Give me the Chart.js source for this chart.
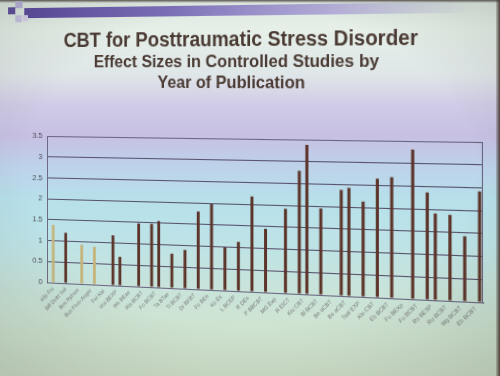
<!DOCTYPE html>
<html>
<head>
<meta charset="utf-8">
<script src="https://cdn.jsdelivr.net/npm/chart.js@4.4.1/dist/chart.umd.min.js"></script>
<style>
  html, body { margin: 0; padding: 0; }
  body {
    width: 500px; height: 376px; overflow: hidden; position: relative;
    background: linear-gradient(to bottom, #5c5550 0px, #dde8e0 3px, #e6f0e8 30px, #dfe6e8 75px,
      #d0cbe6 105px, #c7c0e3 135px, #bdd3ea 168px, #b7e0ea 200px, #bde3e7 240px,
      #c6e3dc 280px, #cfe4d3 320px, #d1e1cb 376px);
    font-family: "Liberation Sans", Arial, sans-serif;
  }
  #slide {
    position: absolute; left: 0; top: 0; width: 500px; height: 376px;
    transform-origin: 0 0;
    /* photo perspective: right side of the slide is closer to the camera */
    transform: matrix3d(0.89463, -0.0146, 0, -0.0001988, 0, 1, 0, 0, 0, 0, 1, 0, 4.513, -0.583, 0, 1);
  }
  .title { position: absolute; width: 400px; text-align: center; color: #4a3a33; font-weight: bold; }
  #chartBox { position: absolute; left: 0; top: 124px; width: 500px; height: 200px; }
  .deco { position: absolute; }
  #vignette {
    position: absolute; left: 0; top: 0; width: 500px; height: 376px; pointer-events: none;
    background: radial-gradient(ellipse 75% 70% at 50% 45%, rgba(0,0,0,0) 60%, rgba(60,70,60,0.18) 100%);
  }
  #edge { position: absolute; right: 0; top: 0; width: 4px; height: 376px;
    background: linear-gradient(to right, rgba(80,64,58,0.2), #4a3c36); }
</style>
</head>
<body>
<div id="slide">
  <div class="deco" style="left:22px;top:9px;width:450px;height:10px;background:linear-gradient(to right,#5a489e 0%,#7d70b8 35%,#b3acd8 70%,rgba(200,196,228,0) 100%);"></div>
  <div class="deco" style="left:4px;top:8px;width:8px;height:7px;background:#5d4c9c;"></div>
  <div class="deco" style="left:12px;top:2px;width:8px;height:7px;background:#b9b2da;"></div>
  <div class="deco" style="left:12px;top:16px;width:7px;height:7px;background:#c9c3e3;"></div>
  <div class="deco" style="left:20px;top:16px;width:6px;height:6px;background:#d8d3ea;"></div>

  <div class="title" style="left:44px;top:32px;font-size:19.5px;line-height:19px;">CBT for Posttraumatic Stress Disorder</div>
  <div class="title" style="left:42px;top:55px;font-size:16.6px;line-height:16px;">Effect Sizes in Controlled Studies by</div>
  <div class="title" style="left:40px;top:75px;font-size:16.6px;line-height:16px;">Year of Publication</div>

  <div id="chartBox"><canvas id="esChart" width="500" height="200"></canvas></div>
</div>
<div id="vignette"></div>
<div id="edge"></div>

<script>
// study labels along the x axis (read as well as the photo allows)
const studies = [
  'Kilp Frs', 'Bill Deitz Ind', 'Bus Rybsm', 'Bus Frue-Anger', 'Fei Kai', 'Vra BEXP', 'We BEas', 'Wa BCBT',
  'Fo BCBT', 'Ta BTae', 'Ti BCBT', 'Dr BFBT', 'Fo BEe', 'Ko Ex', 'L BCEP', 'R DEs',
  'P BBCBT', 'MG Exp', 'R EICT', 'Kiu CBT', 'Bl BCBT', 'Be aCBT', 'Be aCBT', 'Taal EXP',
  'Kiu CBT', 'Eb BCBT', 'Fo BEXp', 'Fo BCBT', 'Ru BEXP', 'Ru BCBT', 'Mg BCBT', 'Eb BCBT'
];

// effect sizes, three bar slots per study (left / middle / right)
const seriesLeft = [null, null, null, null, null, 1.18, null, 1.48, 1.48, null, null, null, null, null, null, null,
  null, null, 1.92, 2.79, null, null, 2.38, null, null, null, null, 3.31, 2.37, null, null, null];
const seriesMid = [1.38, 1.20, null, null, null, null, null, null, null, null, null, null, null, null, null, null,
  null, null, null, null, null, null, null, null, null, null, null, null, null, null, null, null];
const seriesRight = [null, null, 0.93, 0.89, null, 0.68, null, null, 1.55, 0.80, 0.90, 1.80, 1.98, 0.99, 1.13, 2.18,
  1.45, null, null, 3.38, 1.95, null, 2.43, 2.13, 2.65, 2.69, null, null, 1.91, 1.89, 1.43, 2.42];

// studies drawn in the light (tan) colour
const lightStudies = [0, 2, 3];
const yTicks = [0, 0.5, 1, 1.5, 2, 2.5, 3, 3.5];

const darkBar = '#5c3329';
const tanBar = '#c4b47b';
const barColor = ctx => lightStudies.includes(ctx.dataIndex) ? tanBar : darkBar;

// thin frame round the plot area, like the Excel chart
const plotFrame = {
  id: 'plotFrame',
  afterDraw(chart) {
    const a = chart.chartArea, c = chart.ctx;
    c.save();
    c.strokeStyle = '#6a6580';
    c.lineWidth = 1;
    c.strokeRect(a.left + 0.5, a.top + 0.5, a.right - a.left - 1, a.bottom - a.top);
    c.restore();
  }
};

function makeSet(label, data) {
  return { label, data, backgroundColor: barColor, borderWidth: 0, categoryPercentage: 0.82, barPercentage: 0.8 };
}

new Chart(document.getElementById('esChart'), {
  type: 'bar',
  data: {
    labels: studies,
    datasets: [makeSet('left', seriesLeft), makeSet('mid', seriesMid), makeSet('right', seriesRight)]
  },
  options: {
    responsive: false,
    animation: false,
    layout: { padding: { left: 0, right: 17, top: 12, bottom: 0 } },
    plugins: { legend: { display: false }, tooltip: { enabled: false } },
    scales: {
      x: {
        grid: { display: false, drawTicks: false },
        border: { color: '#3f3a48', width: 1 },
        ticks: { autoSkip: false, minRotation: 45, maxRotation: 45, padding: 3,
          color: '#777a78', font: { family: 'Liberation Sans', size: 5.5 } },
        afterFit: s => { s.height = 43; }
      },
      y: {
        min: 0, max: 3.5,
        afterBuildTicks: s => { s.ticks = yTicks.map(v => ({ value: v })); },
        grid: { color: '#57516c', lineWidth: 1, drawTicks: false },
        border: { color: '#3f3a48', width: 1 },
        ticks: { padding: 5, color: '#4d4a55', font: { family: 'Liberation Sans', size: 8 },
          callback: v => String(v) },
        afterFit: s => { s.width = 47; }
      }
    }
  },
  plugins: [plotFrame]
});
</script>
</body>
</html>
